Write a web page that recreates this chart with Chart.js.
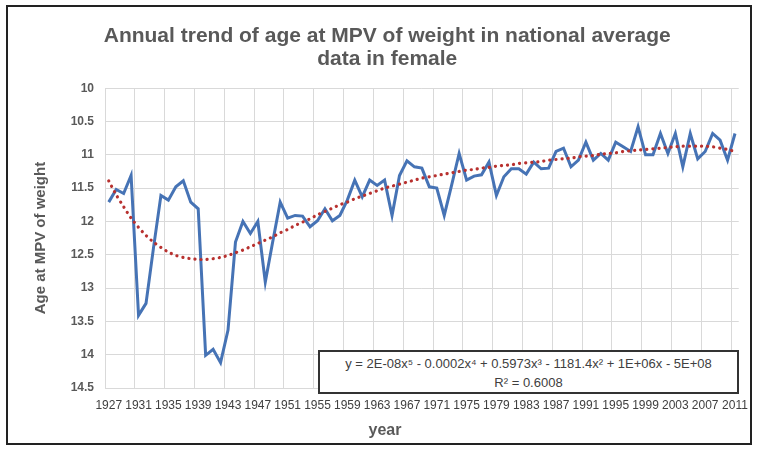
<!DOCTYPE html>
<html>
<head>
<meta charset="utf-8">
<script src="https://cdn.jsdelivr.net/npm/chart.js@4/dist/chart.umd.min.js"></script>
<style>
  html, body { margin: 0; padding: 0; background: #fff; }
  #wrap { position: relative; width: 758px; height: 451px; }
  #frame { position: absolute; left: 6px; top: 5px; width: 746px; height: 440px; border: 2px solid #222; box-sizing: border-box; pointer-events: none; }
  #eq { position: absolute; left: 318px; top: 350px; width: 421px; height: 44px; border: 2px solid #333; box-sizing: border-box; background: #fff;
        font-family: "Liberation Sans", Arial, sans-serif; font-size: 13px; color: #404040; text-align: center; line-height: 19px; padding-top: 2px; white-space: nowrap; }
  #xt { position: absolute; left: 335px; top: 421px; width: 100px; text-align: center; font-family: "Liberation Sans", Arial, sans-serif; font-weight: bold; font-size: 16px; color: #595959; }
</style>
</head>
<body>
<div id="wrap">
  <canvas id="c" width="758" height="451"></canvas>
  <div id="eq">y = 2E-08x⁵ - 0.0002x⁴ + 0.5973x³ - 1181.4x² + 1E+06x - 5E+08<br>R² = 0.6008</div>
  <div id="xt">year</div>
  <div id="frame"></div>
</div>
<script>
const years = ["1927","1928","1929","1930","1931","1932","1933","1934","1935","1936","1937","1938","1939","1940","1941","1942","1943","1944","1945","1946","1947","1948","1949","1950","1951","1952","1953","1954","1955","1956","1957","1958","1959","1960","1961","1962","1963","1964","1965","1966","1967","1968","1969","1970","1971","1972","1973","1974","1975","1976","1977","1978","1979","1980","1981","1982","1983","1984","1985","1986","1987","1988","1989","1990","1991","1992","1993","1994","1995","1996","1997","1998","1999","2000","2001","2002","2003","2004","2005","2006","2007","2008","2009","2010","2011"];

const ageAtMPV = [11.71,11.52,11.58,11.31,13.41,13.23,12.40,11.61,11.68,11.48,
                  11.39,11.71,11.81,14.01,13.92,14.12,13.63,12.31,12.00,12.18,
                  12.00,12.91,12.30,11.71,11.95,11.91,11.92,12.08,11.99,11.81,
                  11.99,11.91,11.68,11.38,11.63,11.38,11.46,11.38,11.91,11.31,
                  11.09,11.18,11.20,11.48,11.50,11.91,11.45,10.98,11.38,11.32,
                  11.30,11.11,11.61,11.33,11.21,11.21,11.29,11.11,11.21,11.20,
                  10.95,10.90,11.18,11.08,10.81,11.08,10.98,11.08,10.81,10.88,
                  10.95,10.58,11.00,11.00,10.68,10.98,10.68,11.18,10.68,11.06,
                  10.95,10.68,10.78,11.08,10.68];

const trendValues = [11.39,11.60,11.78,11.95,12.09,12.21,12.31,12.39,12.46,12.51,
                     12.54,12.56,12.57,12.57,12.56,12.54,12.51,12.47,12.43,12.38,
                     12.33,12.28,12.23,12.17,12.12,12.06,12.01,11.96,11.90,11.85,
                     11.80,11.75,11.71,11.66,11.62,11.58,11.54,11.50,11.47,11.44,
                     11.41,11.38,11.35,11.33,11.31,11.29,11.27,11.25,11.23,11.22,
                     11.20,11.19,11.17,11.16,11.15,11.13,11.12,11.11,11.10,11.08,
                     11.07,11.06,11.05,11.03,11.02,11.01,10.99,10.98,10.97,10.95,
                     10.94,10.93,10.92,10.91,10.90,10.89,10.88,10.87,10.87,10.87,
                     10.87,10.88,10.90,10.92,10.95];

const yTicks = [10,10.5,11,11.5,12,12.5,13,13.5,14,14.5];
const labelEvery = 4;

const FONT = '"Liberation Sans", Arial, sans-serif';

new Chart(document.getElementById('c'), {
  type: 'line',
  data: {
    labels: years,
    datasets: [
      {
        label: 'Age at MPV of weight',
        data: ageAtMPV,
        borderColor: '#4673b5',
        borderWidth: 3,
        pointRadius: 0,
        tension: 0,
        fill: false,
        order: 2
      },
      {
        label: 'Poly. trend',
        data: trendValues,
        borderColor: '#b8312f',
        borderWidth: 3.2,
        borderDash: [0.1, 6],
        borderCapStyle: 'round',
        pointRadius: 0,
        tension: 0.3,
        fill: false,
        order: 1
      }
    ]
  },
  options: {
    responsive: false,
    animation: false,
    devicePixelRatio: 1,
    layout: { padding: { left: 32, right: 15.5, top: 0, bottom: 0 } },
    plugins: {
      legend: { display: false },
      tooltip: { enabled: false },
      title: {
        display: true,
        text: ['Annual trend of age at MPV of weight in national average', 'data in female'],
        color: '#595959',
        font: { family: FONT, size: 21, weight: 'bold', lineHeight: 1.1 },
        padding: { top: 25, bottom: 17 }
      }
    },
    scales: {
      x: {
        type: 'category',
        offset: true,
        grid: {
          offset: true,
          drawTicks: false,
          color: (c) => (c.index !== undefined && c.index % labelEvery === 0) ? '#d9d9d9' : 'rgba(0,0,0,0)',
          lineWidth: 1
        },
        border: { display: false },
        ticks: {
          autoSkip: false,
          maxRotation: 0,
          minRotation: 0,
          padding: 10,
          color: '#404040',
          font: { family: FONT, size: 12 },
          callback: function(v, i) { return i % labelEvery === 0 ? years[i] : ''; }
        },
        afterFit: (s) => { s.height = 63; }
      },
      y: {
        reverse: true,
        min: 10,
        max: 14.5,
        afterBuildTicks: (s) => { s.ticks = yTicks.map(v => ({ value: v })); },
        grid: { color: '#d9d9d9', drawTicks: false, lineWidth: 1 },
        border: { display: false },
        ticks: {
          padding: 11,
          color: '#595959',
          font: { family: FONT, size: 12, weight: 'bold' },
          callback: (v) => String(v)
        },
        title: {
          display: true,
          text: 'Age at MPV of weight',
          color: '#595959',
          font: { family: FONT, size: 15, weight: 'bold' },
          padding: 0
        },
        afterFit: (s) => { s.width = 73; }
      }
    }
  }
});
</script>
</body>
</html>
